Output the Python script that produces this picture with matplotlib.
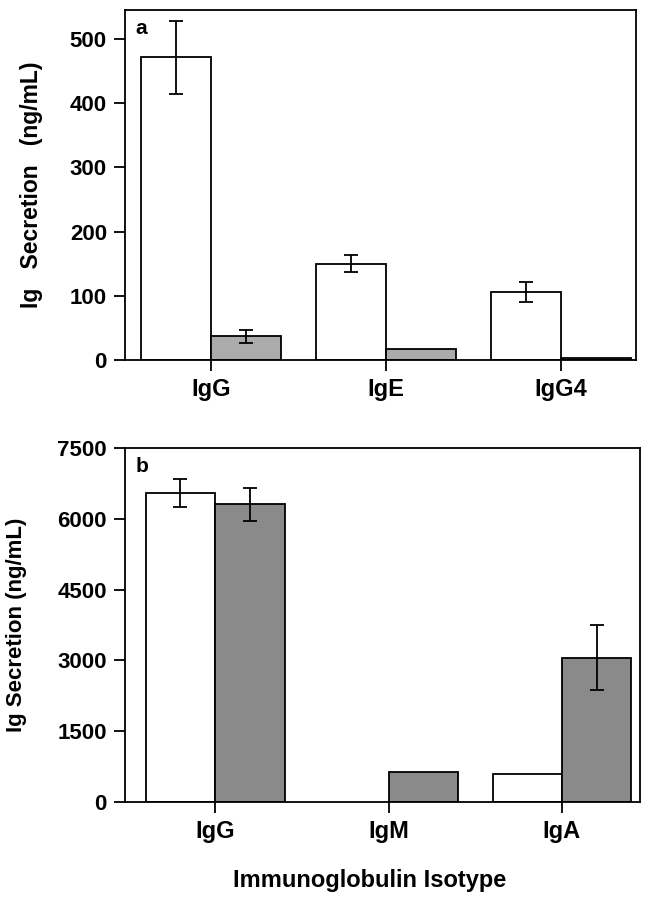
import matplotlib
matplotlib.use("Agg")
import matplotlib.pyplot as plt
import numpy as np

plt.rcParams['font.family'] = ['Liberation Sans', 'DejaVu Sans']
plt.rcParams['font.weight'] = 'bold'

# Panel a
cats_a = ["IgG", "IgE", "IgG4"]
white_a = [471, 150, 106]
white_a_err = [57, 13, 16]
gray_a = [37, 17, 3]
gray_a_err = [10, 0, 0]
yticks_a = [0, 100, 200, 300, 400, 500]

# Panel b
cats_b = ["IgG", "IgM", "IgA"]
white_b = [6545, 0, 601]
white_b_err = [300, 0, 0]
gray_b = [6311, 637, 3057]
gray_b_err = [345, 0, 690]
yticks_b = [0, 1500, 3000, 4500, 6000, 7500]

fig = plt.figure(figsize=(6.51, 9.0), dpi=100)
ax1 = fig.add_axes([0.192, 0.600, 0.785, 0.389])
ax2 = fig.add_axes([0.192, 0.109, 0.791, 0.393])

w = 0.4

def draw(ax, cats, wv, we, gv, ge, yt, ylim, xlim, gcol, label, ylab, labx, labsize):
    x = np.arange(len(cats))
    for i in range(len(cats)):
        if wv[i] > 0:
            ax.bar(x[i] - w/2, wv[i], w, color='white', edgecolor='black', linewidth=1.3, zorder=2)
            if we[i] > 0:
                ax.errorbar(x[i] - w/2, wv[i], yerr=we[i], fmt='none', ecolor='black',
                            elinewidth=1.3, capsize=5, capthick=1.3, zorder=3)
        ax.bar(x[i] + w/2, gv[i], w, color=gcol, edgecolor='black', linewidth=1.3, zorder=2)
        if ge[i] > 0:
            ax.errorbar(x[i] + w/2, gv[i], yerr=ge[i], fmt='none', ecolor='black',
                        elinewidth=1.3, capsize=5, capthick=1.3, zorder=3)
    ax.set_xlim(*xlim)
    ax.set_ylim(*ylim)
    ax.set_xticks(x)
    ax.set_xticklabels(cats, fontsize=17, fontweight='bold')
    ax.set_yticks(yt)
    ax.set_yticklabels([str(v) for v in yt], fontsize=16, fontweight='bold')
    ax.tick_params(axis='both', direction='out', length=8, width=1.3, pad=5)
    ax.tick_params(axis='x', pad=5)
    for s in ax.spines.values():
        s.set_linewidth(1.3)
    ax.text(0.02, 0.975, label, transform=ax.transAxes, ha='left', va='top',
            fontsize=15, fontweight='bold')
    ax.set_ylabel(ylab, fontsize=labsize, fontweight='bold')
    ax.yaxis.set_label_coords(labx, 0.5)

draw(ax1, cats_a, white_a, white_a_err, gray_a, gray_a_err, yticks_a, (0, 545),
     (-0.49, 2.43), '#ababab', 'a', 'Ig   Secretion   (ng/mL)', -0.16, 16.5)
draw(ax2, cats_b, white_b, white_b_err, gray_b, gray_b_err, yticks_b, (0, 7500),
     (-0.52, 2.45), '#8a8a8a', 'b', 'Ig Secretion (ng/mL)', -0.19, 16)

fig.text(0.568, 0.022, 'Immunoglobulin Isotype', ha='center', va='center',
         fontsize=17, fontweight='bold')

fig.savefig('out.png', dpi=100)
